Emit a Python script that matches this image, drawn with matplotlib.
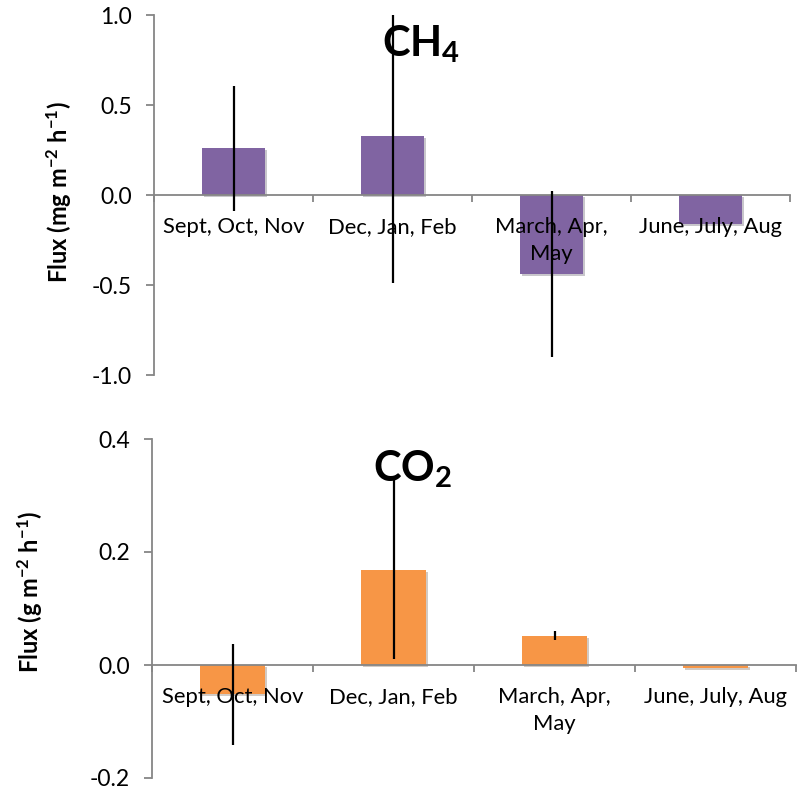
import matplotlib.pyplot as plt
import matplotlib.patheffects as pe

plt.rcParams['font.family'] = ['Lato', 'DejaVu Sans']
plt.rcParams['mathtext.fontset'] = 'custom'
plt.rcParams['mathtext.rm'] = 'Lato:bold'
plt.rcParams['mathtext.bf'] = 'Lato:bold'
plt.rcParams['mathtext.default'] = 'bf'

seasons = ["Sept, Oct, Nov", "Dec, Jan, Feb", "March, Apr,\nMay", "June, July, Aug"]

ch4_flux = [0.259, 0.326, -0.439, -0.161]
ch4_err = [0.346, 0.813, 0.461, 0.0]

co2_flux = [-0.052, 0.169, 0.052, -0.006]
co2_err = [0.090, 0.158, 0.008, 0.0]

AXIS_GREY = "#868686"


def style_axis(ax, ylim, yticks):
    ax.set_axisbelow(False)
    ax.set_xlim(-0.5, 3.5)
    ax.set_ylim(*ylim)
    ax.set_yticks(yticks)
    ax.set_yticklabels([f"{t:.1f}" for t in yticks])
    ax.spines['top'].set_visible(False)
    ax.spines['right'].set_visible(False)
    ax.spines['bottom'].set_position(('data', 0))
    for s in ('left', 'bottom'):
        ax.spines[s].set_color(AXIS_GREY)
        ax.spines[s].set_linewidth(1.3)
    ax.set_xticks([-0.5, 0.5, 1.5, 2.5, 3.5])
    ax.set_xticklabels([])
    ax.set_xticks(range(4), minor=True)
    ax.set_xticklabels(seasons, minor=True, fontsize=15.8, linespacing=1.4,
                       va='top')
    ax.tick_params(axis='x', which='major', direction='out', length=5,
                   color=AXIS_GREY, width=1.3)
    ax.tick_params(axis='x', which='minor', length=0, pad=16)
    ax.tick_params(axis='y', direction='out', length=6, color=AXIS_GREY,
                   width=1.3, labelsize=16.5, pad=10)


def draw_bars(ax, vals, errs, color):
    bars = ax.bar(range(4), vals, width=0.4, color=color, zorder=2)
    for b in bars:
        b.set_path_effects([pe.SimplePatchShadow(offset=(1.5, -1.5), alpha=0.25),
                            pe.Normal()])
    ax.errorbar(range(4), vals, yerr=errs, fmt='none', ecolor='black',
                elinewidth=1.6, capsize=0, zorder=4)


fig = plt.figure(figsize=(8, 7.88), dpi=100)
W, H = 800, 788

ax1 = fig.add_axes([154 / W, 1 - 375 / H, 636 / W, 360 / H])
draw_bars(ax1, ch4_flux, ch4_err, "#8064A2")
style_axis(ax1, (-1.0, 1.0), [-1.0, -0.5, 0.0, 0.5, 1.0])
ax1.set_ylabel("Flux (mg m$^{-2}$ h$^{-1}$)", fontsize=17, fontweight='bold')
ax1.yaxis.set_label_coords(-0.126, 0.508)
ax1.text(0.42, 0.92, "CH$_4$", transform=ax1.transAxes, fontsize=30,
         fontweight='bold', ha='center', va='center')

ax2 = fig.add_axes([152 / W, 1 - 778 / H, 644 / W, 339 / H])
draw_bars(ax2, co2_flux, co2_err, "#F79646")
style_axis(ax2, (-0.2, 0.4), [-0.2, 0.0, 0.2, 0.4])
ax2.set_ylabel("Flux (g m$^{-2}$ h$^{-1}$)", fontsize=17, fontweight='bold')
ax2.yaxis.set_label_coords(-0.166, 0.549)
ax2.text(0.405, 0.91, "CO$_2$", transform=ax2.transAxes, fontsize=30,
         fontweight='bold', ha='center', va='center')

fig.savefig("out.png", dpi=100)
